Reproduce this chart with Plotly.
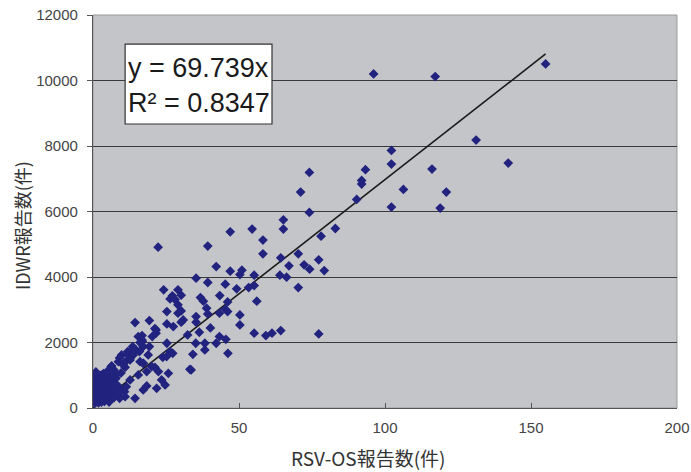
import plotly.graph_objects as go

# --- Data (RSV-OS reports vs IDWR reports) ---
rsv_os = [
    96.1, 117.2, 155.0, 131.2, 102.2, 142.2, 102.2, 116.1, 93.3, 92.0, 92.0, 106.3, 121.0, 90.3, 102.2, 118.9, 83.0,
    74.1, 71.1, 74.1, 65.2, 65.2, 54.5, 47.0, 78.1, 58.2, 22.3, 39.3, 58.2, 70.3, 64.3, 77.3, 72.3, 67.1, 42.2,
    74.2, 79.2, 47.0, 51.0, 50.3, 55.2, 64.0, 66.3, 35.3, 39.3, 45.3, 55.2, 53.3, 49.2, 70.3, 24.2, 29.1, 27.2,
    30.2, 26.4, 28.1, 36.8, 37.8, 43.4, 56.1, 29.1, 38.9, 46.1, 46.1, 25.3, 30.2, 29.1, 39.3, 43.3, 45.3, 50.3,
    35.3, 30.9, 30.2, 19.3, 25.3, 27.5, 35.3, 50.3, 40.2, 21.2, 21.6, 20.3, 16.8, 16.8, 32.4, 36.4, 43.3, 45.5,
    55.2, 59.2, 61.3, 64.3, 77.3, 35.2, 38.3, 42.2, 25.3, 19.3, 26.4, 27.3, 23.9, 34.2, 38.3, 46.2, 17.2, 21.2,
    33.2,
    14.4, 21.6, 15.5, 16.9, 13.6, 11.9, 14.6, 9.8, 12.7, 8.7, 6.4, 11.0, 16.1, 18.4, 15.5, 22.4, 23.5, 21.8,
    18.4, 25.8, 33.6, 12.7, 9.8, 8.1, 4.1,
    6.2, 7.2, 9.1, 11.0, 12.0, 9.6, 7.9, 10.8, 9.1, 8.5, 11.4, 12.9,
    16.1, 17.2, 13.8, 15.9, 18.9, 12.7, 10.4, 17.2, 20.1, 25.2, 17.2, 14.4, 11.0, 24.7,
    0.3, 0.5, 0.6, 0.8, 1.0, 1.1, 1.2, 1.3, 1.5, 1.6, 1.7, 1.8, 2.0, 2.1, 2.2, 2.3, 2.4, 2.5, 2.6, 2.7, 2.8,
    3.0, 3.1, 3.2, 3.3, 3.4, 3.5, 3.6, 3.7, 3.8, 4.0, 4.1, 4.2, 4.3, 4.5, 4.6, 4.7, 4.9, 5.0, 5.2, 5.3, 5.5,
    5.7, 5.8, 6.0, 6.2, 6.4, 6.6, 6.8, 7.0, 7.2, 7.5, 7.8, 8.0, 8.3, 8.8, 0.2, 0.4, 1.0, 1.9, 0.7, 3.9, 2.9, 5.5,
]
idwr = [
    10201, 10119, 10507, 8183, 7866, 7480, 7450, 7297, 7276, 6949, 6838, 6674, 6594, 6368, 6135, 6105, 5481,
    7194, 6594, 5971, 5747, 5463, 5463, 5380, 5248, 5126, 4912, 4943, 4708, 4708, 4585, 4524, 4372, 4341, 4320,
    4240, 4198, 4178, 4209, 4076, 4056, 4056, 3995, 3965, 3832, 3781, 3740, 3679, 3638, 3679, 3607, 3607, 3424,
    3444, 3332, 3311, 3372, 3261, 3433, 3261, 3149, 3047, 3240, 2944, 2944, 2965, 2894, 2874, 2894, 3017, 2843,
    2791, 2690, 2620, 2670, 2568, 2486, 2620, 2537, 2446, 2425, 2283, 2181, 2211, 2079, 2232, 2313, 2181, 2099,
    2283, 2211, 2283, 2364, 2262, 1977, 1977, 1977, 1977, 1875, 1722, 1671, 1549, 1641, 1773, 1671, 1366, 1244,
    1183,
    2608, 2384, 2181, 2027, 1875, 1722, 1773, 1620, 1519, 1416, 1284, 1244, 1416, 1111, 1009, 1111, 856, 602,
    673, 1060, 1162, 856, 550, 397, 856,
    1254, 1162, 1529, 1406, 1620, 1070, 917, 499, 296, 400, 651, 1722,
    1997, 1875, 1620, 1722, 1620, 1467, 1315, 1366, 1264, 1570, 550, 296, 346, 703,
    420, 610, 300, 780, 520, 350, 680, 900, 450, 250, 600, 820, 380, 700, 530, 950, 280, 640, 460, 810, 1000,
    560, 330, 720, 880, 490, 620, 1050, 400, 760, 580, 950, 300, 680, 820, 470, 1100, 620, 380, 900, 730, 540,
    1000, 250, 820, 640, 420, 960, 560, 740, 320, 880, 600, 1020, 700, 480, 200, 1000, 1100, 160, 150, 200, 180, 180,
]
slope = 69.739
r_squared = 0.8347
x_ticks = [0, 50, 100, 150, 200]
y_ticks = [0, 2000, 4000, 6000, 8000, 10000, 12000]
x_title = "RSV-OS報告数(件)"
y_title = "IDWR報告数(件)"

trend_x = [0, max(rsv_os)]
trend_y = [slope * v for v in trend_x]

fig = go.Figure()
fig.add_trace(go.Scatter(
    x=trend_x, y=trend_y, mode="lines",
    line=dict(color="#1a1a1a", width=1.6), hoverinfo="skip", showlegend=False,
))
fig.add_trace(go.Scatter(
    x=rsv_os, y=idwr, mode="markers",
    marker=dict(symbol="diamond", size=7.5, color="#22227f", line=dict(width=0)),
    showlegend=False,
))

fig.add_shape(type="rect", xref="paper", yref="paper",
              x0=0.055, x1=0.3065, y0=0.7226, y1=0.926,
              fillcolor="white", line=dict(color="#333333", width=1.2), layer="above")
fig.add_annotation(xref="paper", yref="paper", x=0.056, y=0.865, xanchor="left", yanchor="middle",
                   text=f"y = {slope}x", showarrow=False,
                   font=dict(family="Liberation Sans, Arial", size=27, color="#1a1a1a"))
fig.add_annotation(xref="paper", yref="paper", x=0.056, y=0.775, xanchor="left", yanchor="middle",
                   text=f"R\u00b2 = {r_squared}", showarrow=False,
                   font=dict(family="Liberation Sans, Arial", size=27, color="#1a1a1a"))

# axis titles (placed as annotations to match reference offsets)
fig.add_annotation(xref="paper", yref="paper", x=0.471, y=-0.127, xanchor="center", yanchor="middle",
                   text=x_title, showarrow=False,
                   font=dict(family="Noto Sans CJK JP", size=19, color="#333333"))
fig.add_annotation(xref="paper", yref="paper", x=-0.1216, y=0.4656, xanchor="center", yanchor="middle",
                   text=y_title, showarrow=False, textangle=-90,
                   font=dict(family="Noto Sans CJK JP", size=18, color="#333333"))

fig.update_layout(
    width=691, height=472,
    margin=dict(l=93, r=14, t=15, b=64),
    paper_bgcolor="white",
    plot_bgcolor="#c4c5c9",
    font=dict(family="Liberation Sans, Arial", size=15, color="#444444"),
    xaxis=dict(
        range=[0, 200], tickvals=x_ticks, ticktext=[str(v) for v in x_ticks],
        showgrid=False, zeroline=False, automargin=False,
        showline=True, linecolor="#555555", linewidth=1.2, mirror=False,
        ticks="inside", ticklen=5, tickcolor="#555555",
        ticklabelstandoff=6,
        tickfont=dict(size=15, color="#444444"),
    ),
    yaxis=dict(
        range=[0, 12000], tickvals=y_ticks, ticktext=[str(v) for v in y_ticks],
        showgrid=True, gridcolor="#3a3a3a", gridwidth=1,
        zeroline=False, automargin=False,
        showline=True, linecolor="#555555", linewidth=1.2,
        ticks="outside", ticklen=5, tickcolor="#555555",
        ticklabelstandoff=6,
        tickfont=dict(size=15, color="#444444"),
    ),
)
fig.add_shape(type="rect", xref="paper", yref="paper", x0=0, x1=1, y0=0, y1=1,
              line=dict(color="#9a9a9a", width=1), layer="below")

fig.write_html("out.html", config={"displayModeBar": False},
               post_script="document.body.style.margin='0';document.body.style.padding='0';")
